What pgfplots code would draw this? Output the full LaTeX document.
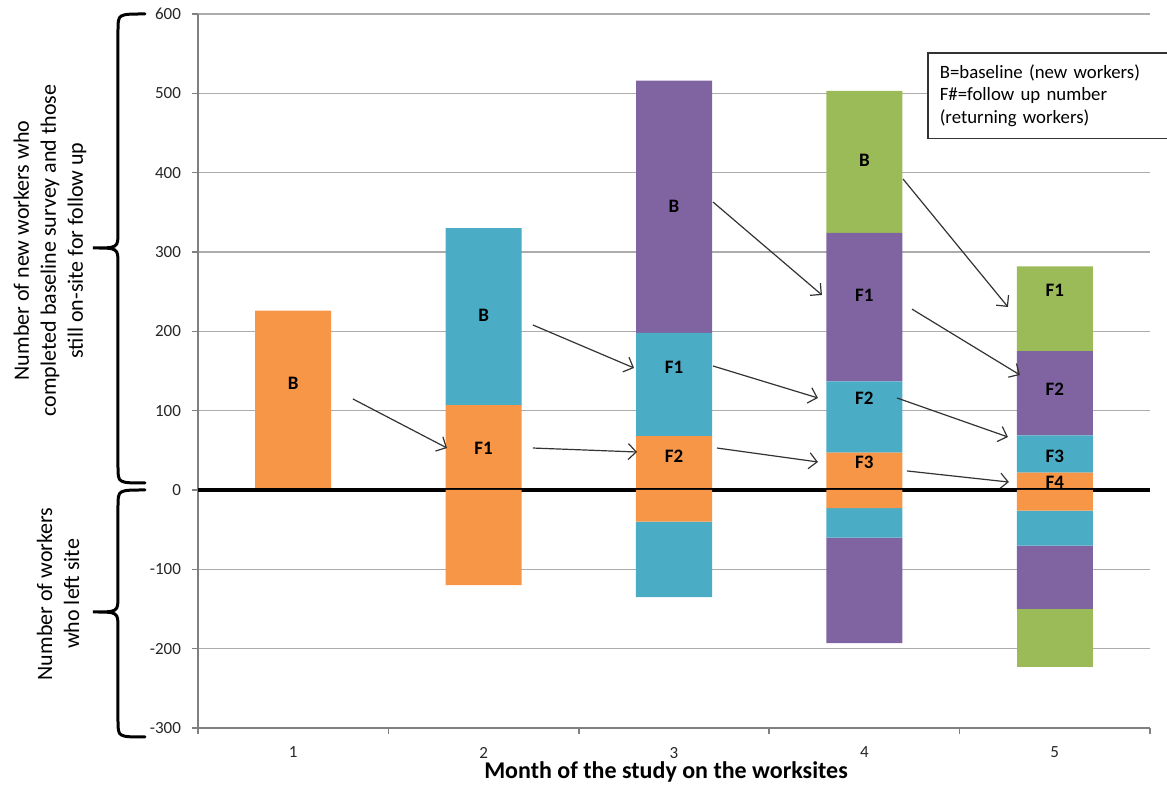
\documentclass[border=0pt]{standalone}
\usepackage{pgfplots}
\pgfplotsset{compat=1.18}
\usepackage{fontspec}
\setmainfont{Carlito}
\usetikzlibrary{arrows.meta}

\definecolor{xlorange}{HTML}{F79646}
\definecolor{xlblue}{HTML}{4BACC6}
\definecolor{xlpurple}{HTML}{8064A2}
\definecolor{xlgreen}{HTML}{9BBB59}

\pgfplotsset{
  base/.style={
    scale only axis, width=476pt, height=357pt,
    xmin=0.5, xmax=5.5, ymin=-300, ymax=600,
    ybar stacked, bar width=38pt,
    clip=false,
  },
}
\tikzset{
  lab/.style={font=\bfseries\fontsize{9.5}{11}\selectfont},
  arr/.style={draw=black!80, line width=0.6pt, -{Straight Barb[length=4pt,width=8pt]}},
}

\begin{document}
\begin{tikzpicture}
% worker counts still on site (positive part)
\begin{axis}[base,
    axis x line*=bottom, axis y line*=left,
    axis line style={gray, line width=0.75pt},
    ymajorgrids, grid style={gray!65, line width=0.75pt},
    ytick={-300,-200,...,600},
    xtick={1,2,3,4,5}, xtick style={draw=none},
    extra x ticks={0.5,1.5,2.5,3.5,4.5,5.5}, extra x tick labels={},
    extra x tick style={xtick style={draw=gray, line width=0.75pt}},
    ytick style={gray, line width=0.75pt},
    tick align=outside, tickwidth=3pt,
    /pgf/number format/assume math mode=true,
    ticklabel style={font=\fontsize{8.5}{10}\selectfont, text=black!85},
    xticklabel style={yshift=-3pt},
    yticklabel style={xshift=-2pt},
    xlabel={Month of the study on the worksites},
    xlabel style={font=\bfseries\fontsize{12}{14}\selectfont,
      at={(rel axis cs:0.4916,0)}, anchor=center, yshift=-22pt},
]
\addplot[fill=xlorange, draw=none] coordinates {(1,226) (2,107) (3,68) (4,47) (5,22)};
\addplot[fill=xlblue, draw=none]   coordinates {(1,0) (2,223) (3,130) (4,90) (5,47)};
\addplot[fill=xlpurple, draw=none] coordinates {(1,0) (2,0) (3,318) (4,187) (5,106)};
\addplot[fill=xlgreen, draw=none]  coordinates {(1,0) (2,0) (3,0) (4,179) (5,107)};
\end{axis}

% workers who left (negative part)
\begin{axis}[base, hide axis]
\addplot[fill=xlorange, draw=none] coordinates {(1,0) (2,-120) (3,-40) (4,-23) (5,-26)};
\addplot[fill=xlblue, draw=none]   coordinates {(1,0) (2,0) (3,-95) (4,-37) (5,-44)};
\addplot[fill=xlpurple, draw=none] coordinates {(1,0) (2,0) (3,0) (4,-133) (5,-80)};
\addplot[fill=xlgreen, draw=none]  coordinates {(1,0) (2,0) (3,0) (4,0) (5,-73)};

\draw[black, line width=2pt] (0.5,0) -- (5.5,0);

% segment labels
\node[lab] at (1,134) {B};
\node[lab] at (2,220) {B};
\node[lab] at (2,53) {F1};
\node[lab] at (3,358) {B};
\node[lab] at (3,154) {F1};
\node[lab] at (3,43) {F2};
\node[lab] at (4,415) {B};
\node[lab] at (4,246) {F1};
\node[lab] at (4,115) {F2};
\node[lab] at (4,35) {F3};
\node[lab] at (5,252) {F1};
\node[lab] at (5,127) {F2};
\node[lab] at (5,42) {F3};
\node[lab] at (5,10) {F4};

% follow-up arrows
\draw[arr] (1.314,114.7) -- (1.808,52.9);
\draw[arr] (2.259,208) -- (2.790,153.8);
\draw[arr] (2.259,52.9) -- (2.806,47.9);
\draw[arr] (3.205,363) -- (3.777,245.8);
\draw[arr] (3.205,156.3) -- (3.756,116);
\draw[arr] (3.226,52.9) -- (3.756,35.3);
\draw[arr] (4.203,392) -- (4.754,230.7);
\draw[arr] (4.250,228) -- (4.817,145);
\draw[arr] (4.171,116) -- (4.754,66.8);
\draw[arr] (4.224,24) -- (4.759,10);

% key box
\node[draw=black!80, line width=0.75pt, fill=white, anchor=north west,
      text width=108pt, inner sep=6pt, align=left,
      font=\fontsize{9.4}{11.2}\selectfont] at (4.329,552)
  {B=baseline (new workers)\\F\#=follow up number\\(returning workers)};

\node[rotate=90, align=center, font=\fontsize{11}{13.5}\selectfont] at (-0.277,302)
  {Number of new workers who\\completed baseline survey and those\\still on-site for follow up};
\node[rotate=90, align=center, font=\fontsize{11}{13.5}\selectfont] at (-0.235,-131)
  {Number of workers\\who left site};
\end{axis}

% braces (axis origin at lower left corner, 1px = 0.5pt)
\draw[line width=1.5pt, line cap=round]
  (-26.5pt,357pt) .. controls (-40pt,357pt) .. (-40pt,349pt) -- (-40pt,248pt)
  .. controls (-40pt,240pt) .. (-52.5pt,240pt)
  .. controls (-40pt,240pt) .. (-40pt,232pt) -- (-40pt,130.5pt)
  .. controls (-40pt,122.5pt) .. (-26.5pt,122.5pt);
\draw[line width=1.5pt, line cap=round]
  (-26.5pt,119pt) .. controls (-40pt,119pt) .. (-40pt,111pt) -- (-40pt,66pt)
  .. controls (-40pt,58pt) .. (-52.5pt,58pt)
  .. controls (-40pt,58pt) .. (-40pt,50pt) -- (-40pt,3.5pt)
  .. controls (-40pt,-4.5pt) .. (-26.5pt,-4.5pt);
\pgfresetboundingbox
\path[use as bounding box] (-99pt,-33.5pt) rectangle (484.5pt,364pt);
\end{tikzpicture}
\end{document}
